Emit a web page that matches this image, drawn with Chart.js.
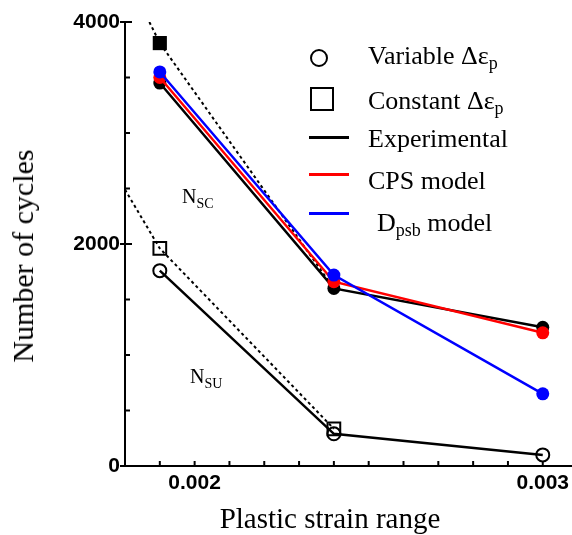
<!DOCTYPE html>
<html>
<head>
<meta charset="utf-8">
<script src="https://cdn.jsdelivr.net/npm/chart.js@4/dist/chart.umd.min.js"></script>
<style>
  html, body { margin: 0; padding: 0; background: #fff; }
  #wrap { position: relative; width: 572px; height: 535px; overflow: hidden; }
  #wrap canvas { position: absolute; left: 0; top: 0; }
  .t { position: absolute; font-family: "Liberation Serif", "Times New Roman", serif; color: #000; line-height: 1; white-space: nowrap; }
  .leg { font-size: 26px; }
  .sub { font-size: 18px; position: relative; top: 5px; }
  .nsub { font-size: 14px; position: relative; top: 5px; }
  .mk { position: absolute; box-sizing: border-box; }
</style>
</head>
<body>
<div id="wrap">
  <canvas id="c" width="572" height="535"></canvas>

  <!-- legend -->
  <div class="mk" style="left:310px; top:49px; width:18px; height:18px; border:2.5px solid #000; border-radius:50%;"></div>
  <div class="t leg" style="left:368px; top:43px;">Variable Δε<span class="sub">p</span></div>
  <div class="mk" style="left:310px; top:87px; width:24px; height:24px; border:2.5px solid #000;"></div>
  <div class="t leg" style="left:368px; top:88px;">Constant Δε<span class="sub">p</span></div>
  <div class="mk" style="left:309px; top:135.5px; width:40px; height:3px; background:#000;"></div>
  <div class="t leg" style="left:368px; top:126px;">Experimental</div>
  <div class="mk" style="left:309px; top:172.5px; width:40px; height:3px; background:#ff0000;"></div>
  <div class="t leg" style="left:368px; top:168px;">CPS model</div>
  <div class="mk" style="left:309px; top:211.5px; width:40px; height:3px; background:#0000ff;"></div>
  <div class="t leg" style="left:377px; top:210px;">D<span class="sub">psb</span> model</div>

  <!-- annotations -->
  <div class="t" style="left:182px; top:186px; font-size:20px;">N<span class="nsub">SC</span></div>
  <div class="t" style="left:190px; top:366px; font-size:20px;">N<span class="nsub">SU</span></div>

  <!-- axis titles -->
  <div class="t" style="left:330px; top:504px; font-size:29px; transform:translateX(-50%);">Plastic strain range</div>
  <div class="t" style="left:23px; top:256px; font-size:30px; transform:translate(-50%,-50%) rotate(-90deg);">Number of cycles</div>
</div>

<script>
// ---- data ----
const strainRanges = [0.0019, 0.0024, 0.003];          // plastic strain range (x)
const expNSC  = [3450, 1600, 1250];                     // Experimental, N_SC (filled black)
const cpsNSC  = [3500, 1660, 1200];                     // CPS model
const dpsbNSC = [3550, 1720, 650];                      // Dpsb model
const expNSU  = [1760, 290, 100];                       // Experimental, N_SU (open circles)

const constNSCx = [0.0019];                             // Constant Δεp, N_SC (filled square)
const constNSC  = [3810];
const constNSUx = [0.0019, 0.0024];                     // Constant Δεp, N_SU (open squares)
const constNSU  = [1960, 335];

const fitNSCx = [0.00187, 0.0019, 0.0024];              // dotted trend through constant N_SC
const fitNSC  = [4000, 3810, 1600];
const fitNSUx = [0.0018, 0.0019, 0.0024];               // dotted trend through constant N_SU
const fitNSU  = [2490, 1960, 335];

const xTickValues = [0.0019,0.0020,0.0021,0.0022,0.0023,0.0024,0.0025,0.0026,0.0027,0.0028,0.0029,0.0030];
const xTickLabels = {"0.0020":"0.002","0.0030":"0.003"};
const yTickValues = [0,500,1000,1500,2000,2500,3000,3500,4000];
const yMajorTicks = [0,2000,4000];

// ---- build ----
const pts = (xs, ys) => xs.map((x, i) => ({x: x, y: ys[i]}));

const innerTicks = {
  id: 'innerTicks',
  afterDraw(chart) {
    const {ctx, chartArea, scales} = chart;
    const xs = scales.x, ys = scales.y;
    ctx.save();
    ctx.strokeStyle = '#000';
    ctx.lineWidth = 2;
    ys.ticks.forEach(t => {
      const py = ys.getPixelForValue(t.value);
      const len = yMajorTicks.includes(t.value) ? 7 : 5;
      ctx.beginPath(); ctx.moveTo(chartArea.left, py); ctx.lineTo(chartArea.left + len, py); ctx.stroke();
    });
    xs.ticks.forEach(t => {
      const px = xs.getPixelForValue(t.value);
      ctx.beginPath(); ctx.moveTo(px, chartArea.bottom); ctx.lineTo(px, chartArea.bottom - 5); ctx.stroke();
    });
    ctx.restore();
  }
};

const noPad = s => { s.paddingLeft = 0; s.paddingRight = 0; s.paddingTop = 0; s.paddingBottom = 0; };

const dotted = {borderColor:'#000', borderWidth:2, borderDash:[3,3], pointRadius:0, fill:false, tension:0};

new Chart(document.getElementById('c'), {
  type: 'line',
  data: {
    datasets: [
      {label:'Dpsb model', data: pts(strainRanges, dpsbNSC), borderColor:'#0000ff', backgroundColor:'#0000ff',
       borderWidth:2.5, pointRadius:6.5, pointBackgroundColor:'#0000ff', pointBorderWidth:0, order:1},
      {label:'CPS model', data: pts(strainRanges, cpsNSC), borderColor:'#ff0000', backgroundColor:'#ff0000',
       borderWidth:2.5, pointRadius:6.5, pointBackgroundColor:'#ff0000', pointBorderWidth:0, order:2},
      {label:'Experimental NSC', data: pts(strainRanges, expNSC), borderColor:'#000', backgroundColor:'#000',
       borderWidth:2.5, pointRadius:6.5, pointBackgroundColor:'#000', pointBorderWidth:0, order:3},
      {label:'Experimental NSU', data: pts(strainRanges, expNSU), borderColor:'#000',
       borderWidth:2.5, pointRadius:6.5, pointBackgroundColor:'rgba(0,0,0,0)', pointBorderColor:'#000', pointBorderWidth:2, order:4},
      {label:'Constant NSC', data: pts(constNSCx, constNSC), showLine:false, pointStyle:'rect',
       pointRadius:10, pointBackgroundColor:'#000', pointBorderWidth:0, order:5},
      {label:'Constant NSU', data: pts(constNSUx, constNSU), showLine:false, pointStyle:'rect',
       pointRadius:9, pointBackgroundColor:'rgba(0,0,0,0)', pointBorderColor:'#000', pointBorderWidth:2, order:6},
      Object.assign({label:'fit NSC', data: pts(fitNSCx, fitNSC), order:7}, dotted),
      Object.assign({label:'fit NSU', data: pts(fitNSUx, fitNSU), order:8}, dotted)
    ]
  },
  options: {
    responsive: false,
    animation: false,
    events: [],
    layout: {autoPadding: false, padding: {top: 22, right: 0, left: 0, bottom: 0}},
    plugins: {legend: {display: false}, tooltip: {enabled: false}},
    scales: {
      x: {
        type: 'linear', min: 0.0018, max: 0.003084,
        afterBuildTicks: s => { s.ticks = xTickValues.map(v => ({value: v})); },
        afterFit: s => { s.height = 69; noPad(s); },
        border: {display: true, color: '#000', width: 2},
        grid: {display: true, drawOnChartArea: false, drawTicks: false, color: 'rgba(0,0,0,0)'},
        ticks: {
          autoSkip: false, maxRotation: 0, padding: 5, color: '#000',
          font: {family: '"Liberation Sans", Arial, sans-serif', size: 21, weight: 'bold'},
          callback: v => xTickLabels[v.toFixed(4)] || ''
        }
      },
      y: {
        type: 'linear', min: 0, max: 4000,
        afterBuildTicks: s => { s.ticks = yTickValues.map(v => ({value: v})); },
        afterFit: s => { s.width = 125; noPad(s); },
        border: {display: true, color: '#000', width: 2},
        grid: {display: true, drawOnChartArea: false, drawTicks: true, tickLength: 5, lineWidth: 2,
               tickColor: c => (c.tick && yMajorTicks.includes(c.tick.value)) ? '#000' : 'rgba(0,0,0,0)',
               color: 'rgba(0,0,0,0)'},
        ticks: {
          autoSkip: false, padding: 0, color: '#000',
          font: {family: '"Liberation Sans", Arial, sans-serif', size: 21, weight: 'bold'},
          callback: v => yMajorTicks.includes(v) ? String(v) : ''
        }
      }
    }
  },
  plugins: [innerTicks]
});
</script>
</body>
</html>
